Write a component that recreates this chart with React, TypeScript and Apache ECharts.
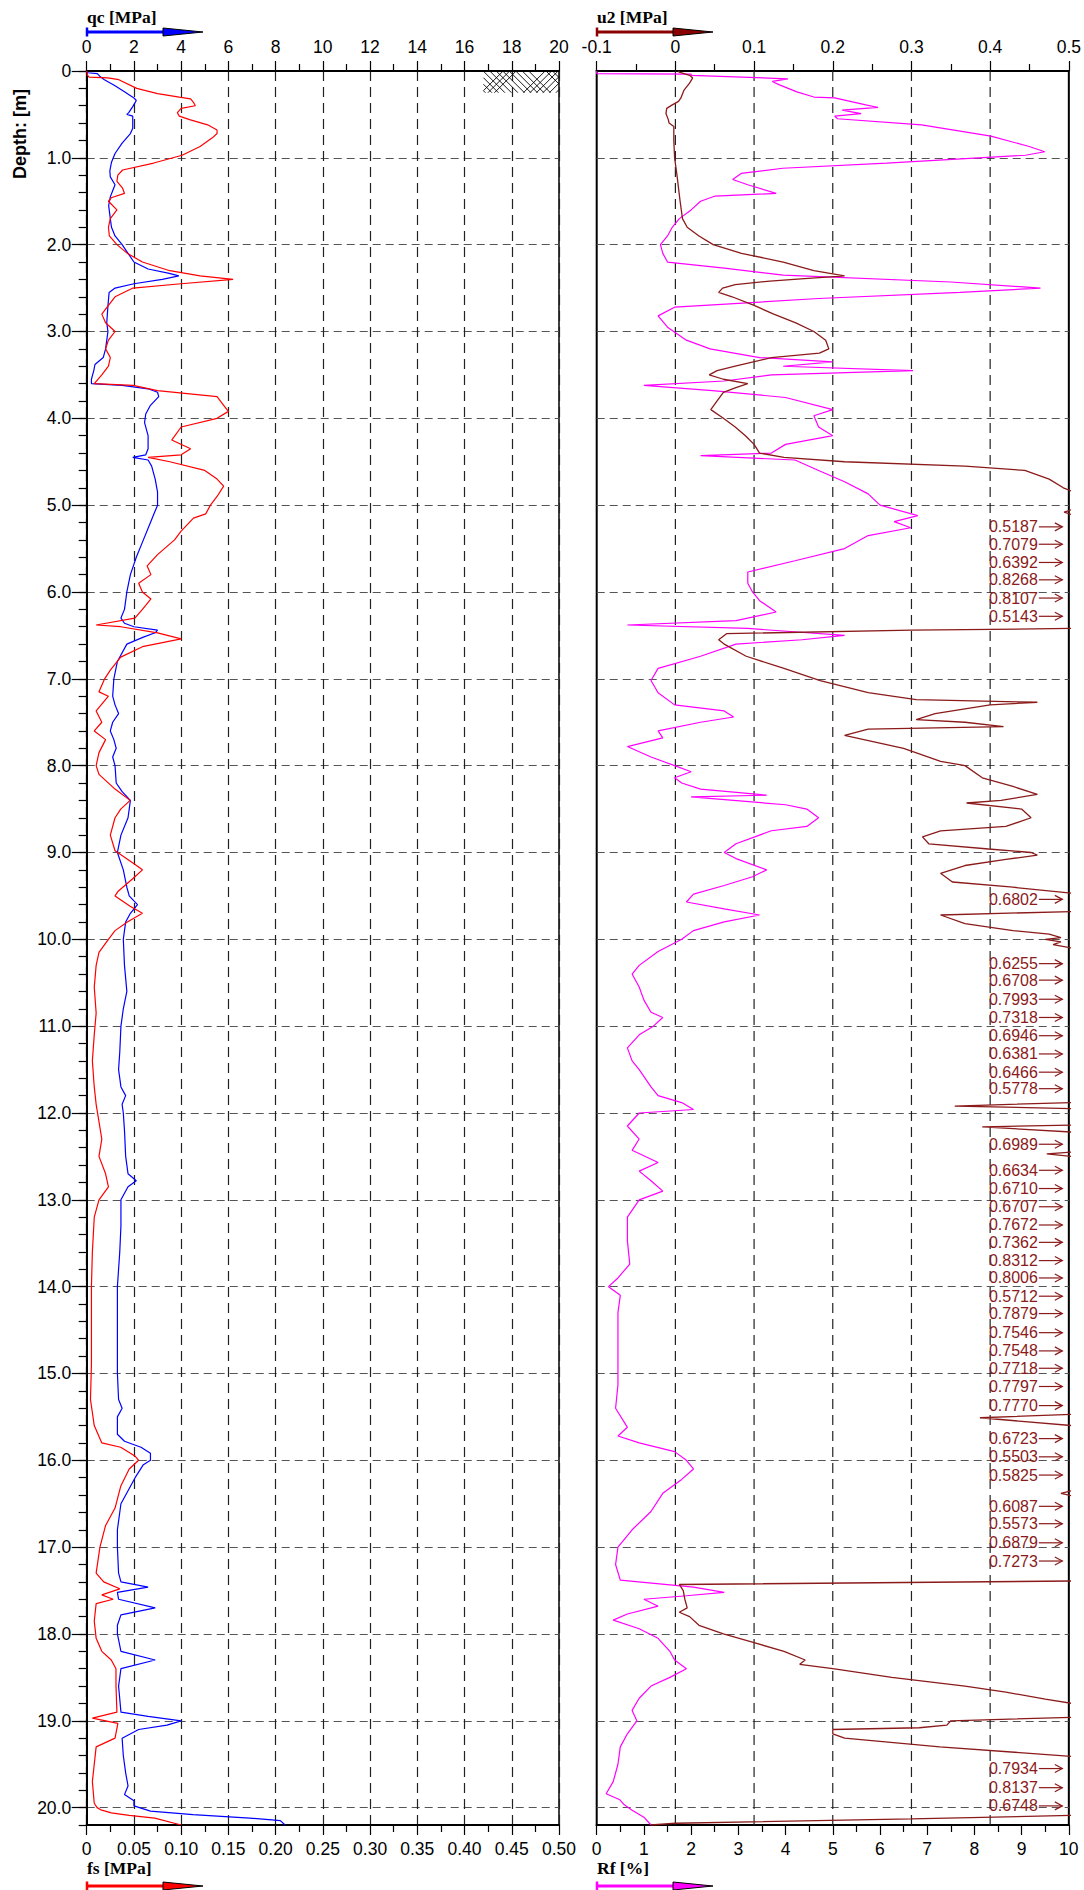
import React, { useEffect, useRef } from "react";
import * as echarts from "echarts";

// ---------- DATA ----------
// cone resistance qc [MPa] : [depth m, qc]
const qcData: number[][] = [
  [0.0, 0.0], [0.02, 0.05], [0.03, 0.45], [0.06, 0.55], [0.1, 0.75], [0.17, 1.2], [0.24, 1.6], [0.31, 2.0], [0.34, 2.1],
  [0.41, 1.95], [0.48, 1.78], [0.5, 1.7], [0.52, 1.95], [0.6, 1.95], [0.66, 1.95], [0.72, 1.85], [0.83, 1.5], [0.95, 1.2],
  [1.05, 1.05], [1.15, 0.98], [1.22, 1.0], [1.31, 1.2], [1.38, 1.1], [1.45, 1.0], [1.55, 0.93], [1.7, 1.0], [1.8, 1.05],
  [1.9, 1.2], [2.0, 1.5], [2.1, 1.75], [2.2, 2.0], [2.28, 2.6], [2.33, 3.5], [2.36, 3.9], [2.4, 3.2], [2.45, 2.0], [2.5, 1.2],
  [2.55, 0.95], [2.7, 0.9], [2.9, 0.85], [3.0, 0.9], [3.1, 0.85], [3.2, 0.8], [3.3, 0.7], [3.38, 0.35], [3.45, 0.3],
  [3.55, 0.2], [3.6, 0.2], [3.62, 1.5], [3.66, 2.6], [3.7, 3.0], [3.75, 3.05], [3.85, 2.7], [3.95, 2.5], [4.05, 2.45],
  [4.2, 2.6], [4.35, 2.6], [4.42, 2.5], [4.45, 1.95], [4.48, 2.6], [4.55, 2.75], [4.7, 2.9], [4.85, 3.0], [5.0, 3.0],
  [5.1, 2.85], [5.2, 2.7], [5.4, 2.4], [5.6, 2.1], [5.8, 1.85], [6.0, 1.7], [6.2, 1.6], [6.3, 1.45], [6.36, 1.6], [6.4, 2.0],
  [6.44, 3.0], [6.47, 2.9], [6.52, 2.4], [6.6, 1.7], [6.8, 1.3], [7.0, 1.15], [7.2, 1.1], [7.3, 1.2], [7.4, 1.35], [7.5, 1.1],
  [7.6, 1.0], [7.7, 1.15], [7.8, 1.25], [7.9, 1.1], [8.0, 1.2], [8.2, 1.25], [8.3, 1.5], [8.4, 1.85], [8.5, 1.8], [8.6, 1.75],
  [8.8, 1.45], [9.0, 1.3], [9.2, 1.55], [9.4, 1.7], [9.5, 1.8], [9.6, 2.15], [9.7, 1.85], [9.8, 1.65], [10.0, 1.55],
  [10.3, 1.6], [10.6, 1.7], [10.8, 1.55], [11.0, 1.45], [11.3, 1.4], [11.5, 1.35], [11.7, 1.45], [11.8, 1.65], [11.9, 1.5],
  [12.0, 1.55], [12.2, 1.6], [12.5, 1.65], [12.7, 1.75], [12.78, 2.1], [12.85, 1.75], [13.0, 1.45], [13.3, 1.45],
  [13.6, 1.4], [14.0, 1.3], [14.5, 1.3], [15.0, 1.3], [15.3, 1.35], [15.4, 1.5], [15.5, 1.3], [15.7, 1.3], [15.78, 1.6],
  [15.85, 2.3], [15.92, 2.7], [16.0, 2.7], [16.05, 2.4], [16.2, 2.05], [16.5, 1.45], [16.8, 1.3], [17.0, 1.3], [17.3, 1.35],
  [17.4, 1.45], [17.46, 2.6], [17.52, 1.3], [17.6, 1.35], [17.7, 2.9], [17.78, 1.45], [17.9, 1.3], [18.0, 1.3], [18.2, 1.45],
  [18.3, 2.9], [18.4, 1.45], [18.6, 1.35], [18.9, 1.45], [18.95, 2.6], [19.0, 4.0], [19.05, 3.4], [19.1, 2.2], [19.2, 1.5],
  [19.4, 1.55], [19.6, 1.65], [19.75, 1.75], [19.85, 1.6], [19.92, 2.0], [19.98, 2.0], [20.04, 2.7], [20.08, 4.5],
  [20.12, 6.9], [20.15, 8.2], [20.2, 8.4],
];

// sleeve friction fs [MPa] : [depth m, fs]
const fsData: number[][] = [
  [0.0, 0.0], [0.05, 0.001], [0.07, 0.0025], [0.08, 0.0225], [0.1, 0.034], [0.2, 0.053], [0.26, 0.075], [0.3, 0.098],
  [0.32, 0.11], [0.36, 0.113], [0.4, 0.115], [0.43, 0.1], [0.48, 0.096], [0.52, 0.098], [0.56, 0.109], [0.62, 0.128],
  [0.68, 0.138], [0.72, 0.138], [0.77, 0.133], [0.87, 0.12], [0.97, 0.101], [1.06, 0.071], [1.14, 0.038], [1.2, 0.033],
  [1.27, 0.032], [1.35, 0.038], [1.41, 0.04], [1.46, 0.026], [1.5, 0.023], [1.6, 0.032], [1.7, 0.025], [1.8, 0.023],
  [1.9, 0.024], [2.0, 0.032], [2.1, 0.043], [2.2, 0.059], [2.3, 0.088], [2.36, 0.12], [2.4, 0.155], [2.45, 0.1],
  [2.5, 0.049], [2.6, 0.03], [2.7, 0.023], [2.8, 0.016], [2.9, 0.02], [3.0, 0.03], [3.1, 0.023], [3.2, 0.02], [3.3, 0.025],
  [3.4, 0.023], [3.5, 0.016], [3.6, 0.008], [3.62, 0.049], [3.68, 0.075], [3.75, 0.138], [3.85, 0.145], [3.92, 0.15],
  [4.0, 0.138], [4.1, 0.1], [4.25, 0.09], [4.35, 0.11], [4.42, 0.1], [4.45, 0.065], [4.5, 0.088], [4.6, 0.125],
  [4.7, 0.138], [4.78, 0.145], [4.9, 0.138], [5.0, 0.131], [5.1, 0.126], [5.15, 0.113], [5.3, 0.1], [5.4, 0.093],
  [5.57, 0.075], [5.7, 0.064], [5.8, 0.068], [5.9, 0.055], [6.0, 0.059], [6.08, 0.068], [6.2, 0.059], [6.3, 0.051],
  [6.38, 0.01], [6.4, 0.036], [6.47, 0.075], [6.54, 0.1], [6.63, 0.059], [6.75, 0.036], [6.9, 0.025], [7.0, 0.019],
  [7.15, 0.013], [7.2, 0.023], [7.37, 0.01], [7.5, 0.016], [7.6, 0.008], [7.7, 0.02], [7.85, 0.013], [8.0, 0.01],
  [8.1, 0.013], [8.27, 0.03], [8.4, 0.046], [8.5, 0.036], [8.6, 0.03], [8.8, 0.025], [8.98, 0.03], [9.12, 0.049],
  [9.2, 0.059], [9.3, 0.049], [9.45, 0.033], [9.5, 0.03], [9.62, 0.046], [9.7, 0.059], [9.8, 0.043], [9.9, 0.03],
  [10.0, 0.023], [10.15, 0.013], [10.3, 0.01], [10.55, 0.008], [10.85, 0.01], [11.1, 0.008], [11.4, 0.006], [11.7, 0.008],
  [11.9, 0.01], [12.1, 0.013], [12.3, 0.016], [12.5, 0.013], [12.7, 0.02], [12.85, 0.023], [13.0, 0.013], [13.2, 0.008],
  [13.6, 0.006], [14.0, 0.005], [14.45, 0.005], [14.9, 0.005], [15.3, 0.004], [15.6, 0.008], [15.8, 0.016],
  [15.85, 0.036], [15.95, 0.051], [16.0, 0.055], [16.1, 0.045], [16.3, 0.036], [16.55, 0.03], [16.75, 0.02], [17.0, 0.014],
  [17.3, 0.01], [17.4, 0.018], [17.48, 0.035], [17.55, 0.016], [17.6, 0.028], [17.65, 0.01], [17.85, 0.008], [18.05, 0.01],
  [18.2, 0.016], [18.3, 0.026], [18.4, 0.031], [18.6, 0.031], [18.9, 0.032], [18.97, 0.006], [19.03, 0.033], [19.2, 0.03],
  [19.3, 0.01], [19.7, 0.006], [19.95, 0.008], [20.0, 0.011], [20.025, 0.015], [20.06, 0.026], [20.09, 0.045],
  [20.12, 0.072], [20.2, 0.1],
];

// pore pressure u2 [MPa] : [depth m, u2]  (values above 0.5 run off the scale)
const u2Data: number[][] = [
  [0.0, 0.005], [0.01, 0.004], [0.05, 0.018], [0.08, 0.022], [0.14, 0.018], [0.22, 0.011], [0.31, 0.007], [0.35, 0.004],
  [0.39, -0.004], [0.43, -0.011], [0.49, -0.012], [0.56, -0.009], [0.6, -0.008], [0.64, -0.002], [0.8, -0.002],
  [1.0, -0.001], [1.2, 0.002], [1.5, 0.006], [1.7, 0.009], [1.8, 0.015], [1.9, 0.03], [2.0, 0.048], [2.1, 0.084],
  [2.2, 0.137], [2.3, 0.176], [2.36, 0.215], [2.39, 0.164], [2.42, 0.12], [2.46, 0.076], [2.5, 0.06], [2.55, 0.055],
  [2.6, 0.072], [2.7, 0.1], [2.8, 0.125], [2.9, 0.153], [3.0, 0.176], [3.1, 0.191], [3.2, 0.195], [3.25, 0.183],
  [3.3, 0.122], [3.4, 0.076], [3.45, 0.053], [3.5, 0.043], [3.55, 0.061], [3.6, 0.092], [3.65, 0.076], [3.7, 0.061],
  [3.8, 0.053], [3.9, 0.045], [4.0, 0.061], [4.1, 0.076], [4.2, 0.089], [4.3, 0.1], [4.4, 0.107], [4.45, 0.138],
  [4.5, 0.215], [4.55, 0.368], [4.6, 0.444], [4.7, 0.475], [4.8, 0.493], [4.84, 0.52], [5.05, 0.52], [5.08, 0.494],
  [5.11, 0.52], [6.42, 0.52], [6.44, 0.3], [6.48, 0.065], [6.55, 0.055], [6.6, 0.062], [6.74, 0.09], [6.88, 0.138],
  [7.02, 0.184], [7.16, 0.245], [7.24, 0.306], [7.27, 0.46], [7.3, 0.4], [7.4, 0.33], [7.47, 0.306], [7.5, 0.368],
  [7.55, 0.417], [7.58, 0.245], [7.65, 0.215], [7.8, 0.29], [7.95, 0.337], [8.0, 0.368], [8.14, 0.39], [8.24, 0.429],
  [8.33, 0.46], [8.4, 0.414], [8.43, 0.37], [8.5, 0.44], [8.6, 0.452], [8.7, 0.42], [8.75, 0.337], [8.82, 0.314],
  [8.9, 0.322], [8.96, 0.398], [9.0, 0.452], [9.03, 0.46], [9.08, 0.42], [9.15, 0.368], [9.24, 0.337], [9.34, 0.352],
  [9.4, 0.429], [9.47, 0.52], [9.68, 0.52], [9.72, 0.337], [9.82, 0.368], [9.9, 0.429], [9.94, 0.475], [9.98, 0.49],
  [10.0, 0.47], [10.03, 0.49], [10.06, 0.48], [10.1, 0.52], [11.88, 0.52], [11.92, 0.355], [11.95, 0.52], [12.14, 0.52],
  [12.16, 0.39], [12.22, 0.52], [12.45, 0.52], [12.47, 0.472], [12.5, 0.52], [15.47, 0.52], [15.51, 0.387], [15.6, 0.52],
  [16.35, 0.52], [16.38, 0.49], [16.41, 0.52], [17.39, 0.52], [17.43, 0.005], [17.5, 0.01], [17.6, 0.012], [17.7, 0.015],
  [17.75, 0.005], [17.8, 0.018], [17.9, 0.03], [18.0, 0.061], [18.1, 0.1], [18.2, 0.138], [18.3, 0.165], [18.35, 0.158],
  [18.4, 0.2], [18.5, 0.275], [18.6, 0.368], [18.67, 0.42], [18.75, 0.47], [18.8, 0.52], [18.96, 0.52], [19.0, 0.35],
  [19.05, 0.345], [19.08, 0.31], [19.1, 0.2], [19.15, 0.2], [19.2, 0.215], [19.3, 0.336], [19.41, 0.52], [20.09, 0.52],
  [20.13, 0.3], [20.18, 0.0], [20.2, -0.031],
];

// off-scale u2 readings printed at the right edge
const overDepths: number[] = [
  5.25, 5.45, 5.66, 5.86, 6.07, 6.28, 9.54, 10.28, 10.47, 10.69, 10.9, 11.11, 11.32, 11.53, 11.72, 12.36, 12.66, 12.87,
  13.08, 13.29, 13.49, 13.7, 13.9, 14.11, 14.31, 14.53, 14.74, 14.94, 15.15, 15.37, 15.75, 15.96, 16.17, 16.53, 16.73,
  16.95, 17.16, 19.55, 19.77, 19.98,
];
const overValues: number[] = [
  0.5187, 0.7079, 0.6392, 0.8268, 0.8107, 0.5143, 0.6802, 0.6255, 0.6708, 0.7993, 0.7318, 0.6946, 0.6381, 0.6466, 0.5778,
  0.6989, 0.6634, 0.671, 0.6707, 0.7672, 0.7362, 0.8312, 0.8006, 0.5712, 0.7879, 0.7546, 0.7548, 0.7718, 0.7797, 0.777,
  0.6723, 0.5503, 0.5825, 0.6087, 0.5573, 0.6879, 0.7273, 0.7934, 0.8137, 0.6748,
];

// friction ratio Rf [%] : [depth m, Rf]
const rfData: number[][] = [
  [0.0, 0.0], [0.03, 0.0], [0.035, 2.0], [0.05, 2.0], [0.09, 4.05], [0.12, 3.72], [0.16, 3.87], [0.24, 4.24], [0.3, 4.6],
  [0.31, 5.04], [0.39, 5.7], [0.42, 5.96], [0.45, 5.2], [0.49, 5.6], [0.52, 5.04], [0.55, 5.1], [0.62, 6.88], [0.75, 8.35],
  [0.87, 9.16], [0.93, 9.49], [0.97, 9.08], [1.06, 6.14], [1.12, 3.94], [1.18, 3.06], [1.25, 2.88], [1.31, 3.2],
  [1.41, 3.8], [1.44, 2.51], [1.5, 2.2], [1.6, 2.0], [1.7, 1.75], [1.8, 1.6], [1.9, 1.5], [2.0, 1.35], [2.1, 1.4],
  [2.2, 1.5], [2.27, 2.7], [2.35, 3.95], [2.43, 7.5], [2.5, 9.4], [2.55, 7.7], [2.62, 4.7], [2.72, 1.65], [2.82, 1.3],
  [2.95, 1.5], [3.1, 1.9], [3.2, 2.4], [3.3, 3.45], [3.35, 5.0], [3.4, 3.95], [3.45, 6.7], [3.5, 3.7], [3.57, 2.7],
  [3.62, 1.0], [3.68, 2.45], [3.76, 4.0], [3.9, 5.0], [3.97, 4.6], [4.1, 4.7], [4.2, 5.0], [4.3, 4.0], [4.4, 3.7],
  [4.43, 2.2], [4.48, 4.2], [4.6, 4.7], [4.73, 5.25], [4.87, 5.75], [5.0, 6.0], [5.12, 6.8], [5.19, 6.3], [5.26, 6.65],
  [5.35, 5.75], [5.5, 5.25], [5.64, 4.2], [5.77, 3.2], [5.9, 3.2], [6.0, 3.3], [6.1, 3.45], [6.23, 3.8], [6.33, 2.95],
  [6.38, 0.65], [6.42, 3.2], [6.5, 5.25], [6.55, 4.35], [6.6, 2.95], [6.74, 2.2], [6.88, 1.3], [7.02, 1.15], [7.16, 1.3],
  [7.3, 1.65], [7.37, 2.7], [7.44, 2.9], [7.5, 2.2], [7.6, 1.3], [7.68, 1.4], [7.78, 0.65], [7.9, 1.15], [8.0, 1.65],
  [8.07, 2.0], [8.14, 1.65], [8.2, 1.8], [8.27, 2.2], [8.34, 3.6], [8.36, 2.0], [8.45, 4.0], [8.5, 4.45], [8.6, 4.7],
  [8.7, 4.45], [8.75, 3.7], [8.9, 2.95], [9.0, 2.7], [9.07, 2.95], [9.2, 3.6], [9.28, 3.3], [9.38, 2.7], [9.48, 2.05],
  [9.57, 1.9], [9.65, 2.7], [9.72, 3.45], [9.8, 2.7], [9.9, 2.05], [10.0, 1.8], [10.14, 1.3], [10.3, 0.9], [10.4, 0.75],
  [10.55, 0.9], [10.7, 1.0], [10.84, 1.15], [10.9, 1.4], [11.0, 1.2], [11.1, 0.9], [11.25, 0.65], [11.4, 0.75], [11.5, 0.9],
  [11.7, 1.15], [11.8, 1.3], [11.88, 1.8], [11.96, 2.05], [12.0, 0.9], [12.15, 0.65], [12.3, 0.9], [12.43, 0.75],
  [12.57, 1.3], [12.67, 0.9], [12.78, 1.15], [12.9, 1.4], [13.0, 0.9], [13.2, 0.65], [13.47, 0.65], [13.74, 0.7],
  [13.9, 0.45], [14.0, 0.25], [14.1, 0.5], [14.3, 0.45], [14.6, 0.45], [14.86, 0.45], [15.13, 0.45], [15.4, 0.4],
  [15.62, 0.65], [15.72, 0.45], [15.8, 0.9], [15.9, 1.65], [16.0, 1.9], [16.1, 2.05], [16.22, 1.8], [16.38, 1.4],
  [16.59, 1.15], [16.8, 0.75], [17.0, 0.45], [17.2, 0.4], [17.38, 0.5], [17.46, 2.05], [17.52, 2.7], [17.56, 1.9],
  [17.6, 1.0], [17.68, 1.3], [17.77, 0.65], [17.84, 0.35], [17.94, 0.9], [18.05, 1.3], [18.2, 1.55], [18.3, 1.65],
  [18.4, 1.9], [18.5, 1.55], [18.6, 1.15], [18.74, 0.9], [18.88, 0.75], [19.0, 0.85], [19.15, 0.65], [19.3, 0.5],
  [19.5, 0.45], [19.7, 0.35], [19.84, 0.2], [19.91, 0.49], [19.96, 0.57], [20.03, 0.75], [20.11, 1.0], [20.2, 1.15],
];

// vertical grid positions of the u2 panel
const u2GridValues: number[] = [0, 0.1, 0.2, 0.3, 0.4];

// soil hatch (top right of qc panel)
const hatchQc: number[] = [16.8, 20];
const hatchDepth: number[] = [0, 0.25];

const DEPTH_MAX = 20.2;
const majorDepths: number[] = Array.from({ length: 21 }, (_, i) => i);

// ---------- STYLE ----------
const BLUE = "#0000ff";
const RED = "#ff0000";
const U2C = "#8b1a1a";
const MAG = "#ff00ff";
const SANS = '"Liberation Sans", Arial, sans-serif';
const SERIF = '"Liberation Serif", "Times New Roman", serif';
const U2_CLIP = 0.504;

const L_LEFT = 86.7;
const R_LEFT = 596.7;
const GW = 472.3;
const GTOP = 71;
const GH = 1754;

function arrow(x: number, y: number, color: string) {
  return [
    { type: "line", shape: { x1: x, y1: y, x2: x + 80, y2: y }, style: { stroke: color, lineWidth: 3 } },
    { type: "line", shape: { x1: x, y1: y - 4.5, x2: x, y2: y + 4.5 }, style: { stroke: color, lineWidth: 2.5 } },
    {
      type: "polygon",
      shape: { points: [[x + 76, y - 4], [x + 116, y], [x + 76, y + 4]] },
      style: { fill: color, stroke: "#000", lineWidth: 1 },
    },
  ];
}

function title(x: number, y: number, text: string) {
  return {
    type: "text",
    x,
    y,
    style: { text, font: `bold 17.5px ${SERIF}`, fill: "#000", align: "left", verticalAlign: "middle" },
  };
}

const tickLabel = { color: "#000", fontSize: 17.5, fontFamily: SANS };
const axisLineStyle = { show: true, onZero: false, lineStyle: { color: "#000", width: 2 } };

export default function App() {
  const ref = useRef<HTMLDivElement>(null);
  useEffect(() => {
    if (!ref.current) return;
    const chart = echarts.init(ref.current, undefined, { renderer: "svg" });

    const u2Points = [...u2Data, ...overDepths.map((d, i) => [d, overValues[i]])].sort((a, b) => a[0] - b[0]);

    const hLine = { show: true, lineStyle: { color: "#555", width: 1.2, type: [8, 5] as any } };
    const vLine = { show: true, lineStyle: { color: "#222", width: 1.2, type: [10, 6] as any } };

    const option: any = {
      animation: false,
      backgroundColor: "#fff",
      textStyle: { fontFamily: SANS },
      grid: [
        { left: L_LEFT, top: GTOP, width: GW, height: GH, show: true, borderColor: "#000", borderWidth: 1.5, backgroundColor: "transparent" },
        { left: R_LEFT, top: GTOP, width: GW, height: GH, show: true, borderColor: "#000", borderWidth: 2, backgroundColor: "transparent" },
      ],
      xAxis: [
        {
          gridIndex: 0, type: "value", position: "top", min: 0, max: 20, interval: 2,
          axisLine: axisLineStyle,
          axisTick: { show: true, length: 10, lineStyle: { color: "#000", width: 1.2 } },
          minorTick: { show: true, splitNumber: 2, length: 7, lineStyle: { color: "#000", width: 1.2 } },
          axisLabel: { ...tickLabel, margin: 15 },
          splitLine: vLine,
        },
        {
          gridIndex: 0, type: "value", position: "bottom", min: 0, max: 0.5, interval: 0.05,
          axisLine: axisLineStyle,
          axisTick: { show: true, length: 10, lineStyle: { color: "#000", width: 1.2 } },
          minorTick: { show: true, splitNumber: 2, length: 7, lineStyle: { color: "#000", width: 1.2 } },
          axisLabel: { ...tickLabel, margin: 15, formatter: (v: number) => (v === 0 ? "0" : v.toFixed(2)) },
          splitLine: { show: false },
        },
        {
          gridIndex: 1, type: "value", position: "top", min: -0.1, max: 0.5, interval: 0.1,
          axisLine: axisLineStyle,
          axisTick: { show: true, length: 10, lineStyle: { color: "#000", width: 1.2 } },
          minorTick: { show: true, splitNumber: 2, length: 7, lineStyle: { color: "#000", width: 1.2 } },
          axisLabel: { ...tickLabel, margin: 15, formatter: (v: number) => (Math.abs(v) < 1e-9 ? "0" : String(+v.toFixed(1))) },
          splitLine: { show: false },
        },
        {
          gridIndex: 1, type: "value", position: "bottom", min: 0, max: 10, interval: 1,
          axisLine: axisLineStyle,
          axisTick: { show: true, length: 10, lineStyle: { color: "#000", width: 1.2 } },
          minorTick: { show: true, splitNumber: 2, length: 7, lineStyle: { color: "#000", width: 1.2 } },
          axisLabel: { ...tickLabel, margin: 15 },
          splitLine: { show: false },
        },
      ],
      yAxis: [
        {
          gridIndex: 0, type: "value", position: "left", inverse: true, min: 0, max: DEPTH_MAX, interval: 1,
          axisLine: axisLineStyle,
          axisTick: { show: true, length: 15, customValues: majorDepths, lineStyle: { color: "#000", width: 1.2 } },
          axisLabel: {
            ...tickLabel, margin: 15.5, customValues: majorDepths,
            formatter: (v: number) => (v === 0 ? "0" : v.toFixed(1)),
          },
          splitLine: hLine,
        },
        {
          gridIndex: 0, type: "value", position: "left", inverse: true, min: 0, max: DEPTH_MAX, interval: 0.2,
          axisLine: { show: false, onZero: false },
          axisTick: { show: true, length: 8, lineStyle: { color: "#000", width: 1.2 } },
          axisLabel: { show: false },
          splitLine: { show: false },
        },
        {
          gridIndex: 1, type: "value", position: "left", inverse: true, min: 0, max: DEPTH_MAX, interval: 1,
          axisLine: { show: false, onZero: false },
          axisTick: { show: false },
          axisLabel: { show: false },
          splitLine: hLine,
        },
      ],
      series: [
        {
          type: "custom", xAxisIndex: 2, yAxisIndex: 2, silent: true,
          data: u2GridValues.map((v) => [v, 0, DEPTH_MAX]),
          encode: { x: 0, y: [1, 2] },
          renderItem: (_p: any, api: any) => {
            const a = api.coord([api.value(0), api.value(1)]);
            const b = api.coord([api.value(0), api.value(2)]);
            return {
              type: "line",
              shape: { x1: a[0], y1: a[1], x2: b[0], y2: b[1] },
              style: { stroke: "#222", lineWidth: 1.2, lineDash: [10, 6] },
            };
          },
        },
        {
          type: "custom", xAxisIndex: 0, yAxisIndex: 0, silent: true,
          data: [[hatchQc[0], hatchDepth[0], hatchQc[1], hatchDepth[1]]],
          encode: { x: [0, 2], y: [1, 3] },
          renderItem: (_p: any, api: any) => {
            const a = api.coord([api.value(0), api.value(1)]);
            const b = api.coord([api.value(2), api.value(3)]);
            const x0 = a[0], top = a[1], x1 = b[0], bot = b[1];
            const h = bot - top;
            const children: any[] = [];
            const st = { stroke: "#000", lineWidth: 0.9 };
            const back: number[] = [];
            for (let xs = x0 - h + 2; xs <= x0 + 46; xs += 6.5) back.push(xs);
            for (let xs = x1 - 13; xs <= x1; xs += 6.5) back.push(xs);
            back.forEach((xt) => {
              const t0 = Math.max(0, x0 - xt), t1 = Math.min(h, x1 - xt);
              if (t1 > t0) children.push({ type: "line", shape: { x1: xt + t0, y1: top + t0, x2: xt + t1, y2: top + t1 }, style: st });
            });
            const fwd: number[] = [];
            for (let xb = x0 - 2; xb <= x0 + 12; xb += 6.5) fwd.push(xb);
            for (let xb = x0 + 40; xb <= x1 + 2; xb += 6.5) fwd.push(xb);
            fwd.forEach((xb) => {
              const t0 = Math.max(0, x0 - xb), t1 = Math.min(h, x1 - xb);
              if (t1 > t0) children.push({ type: "line", shape: { x1: xb + t0, y1: bot - t0, x2: xb + t1, y2: bot - t1 }, style: st });
            });
            return { type: "group", children };
          },
        },
        {
          name: "qc", type: "line", xAxisIndex: 0, yAxisIndex: 0, showSymbol: false, silent: true,
          lineStyle: { color: BLUE, width: 1.2 }, itemStyle: { color: BLUE },
          data: qcData.map(([d, v]) => [v, d]),
        },
        {
          name: "fs", type: "line", xAxisIndex: 1, yAxisIndex: 0, showSymbol: false, silent: true,
          lineStyle: { color: RED, width: 1.2 }, itemStyle: { color: RED },
          data: fsData.map(([d, v]) => [v, d]),
        },
        {
          name: "Rf", type: "line", xAxisIndex: 3, yAxisIndex: 2, showSymbol: false, silent: true,
          lineStyle: { color: MAG, width: 1.2 }, itemStyle: { color: MAG },
          data: rfData.map(([d, v]) => [v, d]),
        },
        {
          name: "u2", type: "line", xAxisIndex: 2, yAxisIndex: 2, showSymbol: false, silent: true, clip: false,
          lineStyle: { color: U2C, width: 1.3 }, itemStyle: { color: U2C },
          data: u2Points.map(([d, v]) => [Math.min(v, U2_CLIP), d]),
        },
        {
          type: "custom", xAxisIndex: 2, yAxisIndex: 2, silent: true,
          data: overDepths.map((d, i) => [0.5, d, i]),
          encode: { x: 0, y: 1 },
          renderItem: (_p: any, api: any) => {
            const p = api.coord([api.value(0), api.value(1)]);
            const i = api.value(2);
            const x = p[0], y = p[1];
            const st = { stroke: U2C, lineWidth: 1.2, fill: "none" };
            return {
              type: "group",
              children: [
                {
                  type: "text",
                  style: { x: x - 31, y, text: overValues[i].toFixed(4), align: "right", verticalAlign: "middle", fill: U2C, font: `16px ${SANS}` },
                },
                { type: "line", shape: { x1: x - 30, y1: y, x2: x - 6.5, y2: y }, style: st },
                { type: "polyline", shape: { points: [[x - 14, y - 4], [x - 6.5, y], [x - 14, y + 4]] }, style: st },
              ],
            };
          },
        },
      ],
      graphic: [
        title(87, 17, "qc [MPa]"),
        ...arrow(87, 32, BLUE),
        title(597, 17, "u2 [MPa]"),
        ...arrow(597, 32, "#8b0000"),
        title(87, 1868, "fs [MPa]"),
        ...arrow(87, 1886, RED),
        title(597, 1868, "Rf [%]"),
        ...arrow(597, 1886, MAG),
        {
          type: "text",
          x: 20,
          y: 134,
          rotation: Math.PI / 2,
          style: { text: "Depth: [m]", font: `bold 18px ${SANS}`, fill: "#000", align: "center", verticalAlign: "middle" },
        },
      ],
    };

    chart.setOption(option);
    return () => chart.dispose();
  }, []);

  return <div ref={ref} style={{ position: "absolute", left: 0, top: 0, width: 1084, height: 1890 }} />;
}
